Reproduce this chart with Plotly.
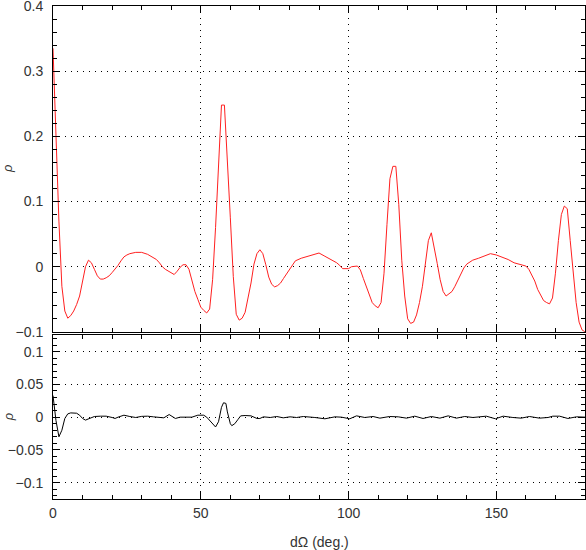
import plotly.graph_objects as go

# Top panel: correlation rho vs angular separation (red)
red_deg = [0, 1, 2, 3, 4, 5, 6, 7, 8, 9, 10, 11, 12, 13, 14, 15, 16, 17, 18, 19,
           20, 21, 22, 23, 24, 25, 26, 28, 30, 32, 34, 35, 36, 37, 38, 40, 41, 42,
           43, 44, 45, 46, 47, 48, 49, 50, 51, 52, 53, 54, 55, 56, 57, 58, 59, 60,
           61, 62, 63, 64, 65, 66, 67, 68, 69, 70, 71, 72, 73, 74, 75, 76, 77, 78,
           79, 80, 81, 82, 84, 86, 88, 90, 92, 94, 96, 97, 98, 100, 101, 103, 104,
           105, 106, 107, 108, 109, 110, 111, 112, 113, 114, 115, 116, 117, 118,
           119, 120, 121, 122, 123, 124, 125, 126, 127, 128, 129, 130, 131, 132,
           133, 134, 135, 136, 137, 138, 139, 140, 142, 144, 146, 148, 150, 152,
           154, 156, 158, 160, 161, 162, 163, 164, 165, 166, 167, 168, 169, 170,
           171, 172, 173, 174, 175, 176, 177, 178, 179, 180]
red_rho = [0.335, 0.2, 0.07, -0.03, -0.068, -0.079, -0.075, -0.068, -0.058, -0.045,
           -0.022, 0.0, 0.010, 0.006, -0.004, -0.014, -0.019, -0.019, -0.017, -0.014,
           -0.009, -0.004, 0.002, 0.009, 0.015, 0.018, 0.020, 0.022, 0.022, 0.019,
           0.014, 0.011, 0.006, 0.0, -0.004, -0.009, -0.012, -0.007, -0.001, 0.003,
           0.003, -0.004, -0.022, -0.038, -0.050, -0.062, -0.067, -0.071, -0.065,
           -0.020, 0.060, 0.150, 0.248, 0.248, 0.170, 0.075, -0.015, -0.073, -0.082,
           -0.079, -0.070, -0.050, -0.025, 0.004, 0.020, 0.026, 0.020, 0.003, -0.016,
           -0.027, -0.031, -0.029, -0.025, -0.018, -0.011, -0.003, 0.004, 0.009,
           0.013, 0.016, 0.019, 0.021, 0.016, 0.011, 0.006, 0.002, -0.003, -0.003,
           0.0, 0.001, -0.005, -0.018, -0.030, -0.044, -0.055, -0.060, -0.063, -0.055,
           -0.010, 0.065, 0.135, 0.154, 0.154, 0.095, 0.010, -0.045, -0.080, -0.087,
           -0.085, -0.074, -0.055, -0.030, 0.008, 0.040, 0.052, 0.030, 0.005, -0.020,
           -0.038, -0.045, -0.042, -0.038, -0.030, -0.020, -0.010, -0.002, 0.004,
           0.010, 0.013, 0.017, 0.020, 0.018, 0.015, 0.011, 0.006, 0.003, 0.001,
           -0.004, -0.012, -0.022, -0.035, -0.044, -0.052, -0.055, -0.057, -0.048,
           -0.010, 0.040, 0.080, 0.093, 0.089, 0.040, -0.010, -0.055, -0.085, -0.097,
           -0.100]

# Bottom panel: residual rho (black)
black_deg = [0, 1, 2, 3, 4, 5, 6, 7, 8, 9, 10, 11, 12, 14, 16, 18, 20, 21, 22, 24,
             26, 28, 30, 32, 34, 36, 37.5, 39.3, 40.5, 41.4, 43, 45, 47, 49, 51, 52,
             53, 54, 55, 56, 57, 57.7, 58.5, 59, 60, 60.5, 61.5, 62.5, 63.5, 65, 67,
             69, 70, 71.2, 73.5, 75.7, 77.9, 80.2, 82.4, 84.7, 86.9, 88.6, 92, 95.4,
             97.6, 100.4, 102.7, 105.5, 108.3, 110.6, 113.9, 116.8, 119.6, 122.4,
             125.2, 128.0, 130.9, 133.7, 136.5, 139.3, 142.1, 146.6, 149.7, 152.3,
             155.6, 158.4, 161.2, 164.6, 167.5, 169.1, 171.4, 174.2, 177.1, 180]
black_rho = [0.033, -0.005, -0.030, -0.020, -0.002, 0.005, 0.0065, 0.0065, 0.006,
             0.003, -0.002, -0.0045, -0.003, 0.001, 0.0015, 0.0015, -0.0005, -0.002,
             0.0, 0.003, 0.001, -0.0005, 0.0012, 0.0015, 0.0005, -0.0005, -0.001,
             0.004, 0.0, -0.002, 0.0, -0.0005, 0.0, 0.003, 0.003, 0.0, -0.005, -0.011,
             -0.015, -0.007, 0.015, 0.022, 0.021, 0.008, -0.010, -0.013, -0.010,
             -0.004, 0.002, 0.0025, 0.002, -0.002, -0.002, 0.0005, -0.0005, 0.001,
             -0.001, 0.0005, -0.0005, 0.001, 0.0005, -0.0005, -0.0025, 0.0005, 0.0,
             -0.0025, 0.002, -0.0005, 0.001, -0.0015, 0.001, 0.0005, -0.0015, 0.0015,
             -0.002, 0.001, -0.0015, 0.002, -0.0015, 0.001, -0.0005, 0.0015, -0.0025,
             0.0015, -0.0005, -0.0015, 0.001, -0.0015, -0.0005, 0.0015, 0.0015, -0.002,
             0.0005, 0.0]

# tick labels
top_ticks = [-0.1, 0, 0.1, 0.2, 0.3, 0.4]
top_labels = ["\u22120.1", "0", "0.1", "0.2", "0.3", "0.4"]
bottom_ticks = [-0.1, -0.05, 0, 0.05, 0.1]
bottom_labels = ["\u22120.1", "\u22120.05", "0", "0.05", "0.1"]

FONT = "Liberation Sans, Arial, sans-serif"
TEXT_COLOR = "#333333"

fig = go.Figure()
fig.add_trace(go.Scatter(x=red_deg, y=red_rho, mode="lines",
                         line=dict(color="#ff2020", width=1), xaxis="x", yaxis="y"))
fig.add_trace(go.Scatter(x=black_deg, y=black_rho, mode="lines",
                         line=dict(color="black", width=1), xaxis="x2", yaxis="y2"))

common = dict(
    showline=True, linecolor="black", linewidth=1, mirror="ticks",
    ticks="inside", ticklen=7, tickcolor="black",
    showgrid=True, gridcolor="black", gridwidth=1, griddash="1px,5px",
    zeroline=False, automargin=False, ticklabeloverflow="allow",
    tickfont=dict(family=FONT, size=14, color=TEXT_COLOR),
)

fig.update_layout(
    width=586, height=550,
    margin=dict(l=53, r=1, t=6, b=51),
    paper_bgcolor="white", plot_bgcolor="white",
    showlegend=False,
    xaxis=dict(range=[0, 180], dtick=50, showticklabels=False, anchor="y",
               minor=dict(dtick=10, ticks="inside", ticklen=4, tickcolor="black"),
               **common),
    yaxis=dict(range=[-0.1, 0.4], tickvals=top_ticks, ticktext=top_labels,
               domain=[0.339, 1], anchor="x", ticklabelstandoff=6,
               minor=dict(dtick=0.02, tick0=0, ticks="inside", ticklen=4,
                          tickcolor="black"),
               **common),
    xaxis2=dict(range=[0, 180], dtick=50, anchor="y2", ticklabelstandoff=1,
                minor=dict(dtick=10, ticks="inside", ticklen=4, tickcolor="black"),
                **common),
    yaxis2=dict(range=[-0.125, 0.125], tickvals=bottom_ticks, ticktext=bottom_labels,
                domain=[0, 0.332], anchor="x2", ticklabelstandoff=6,
                minor=dict(dtick=0.01, tick0=0, ticks="inside", ticklen=4,
                           tickcolor="black"),
                **common),
)

# rotated rho labels for both panels
for yref in ["y domain", "y2 domain"]:
    fig.add_annotation(text="<i>ρ</i>", xref="paper", x=0, xshift=-45, xanchor="center",
                       yref=yref, y=0.5, showarrow=False, textangle=-90,
                       font=dict(family=FONT, size=13, color=TEXT_COLOR))

# x axis title
fig.add_annotation(text="dΩ (deg.)", xref="paper", x=0.5, yref="paper", y=0,
                   yshift=-43, yanchor="middle", showarrow=False,
                   font=dict(family=FONT, size=14, color=TEXT_COLOR))

# drop the browser's default page margin so the figure sits at the corner
fig.write_html("out.html", config={"displayModeBar": False},
               post_script="document.body.style.margin='0';")
